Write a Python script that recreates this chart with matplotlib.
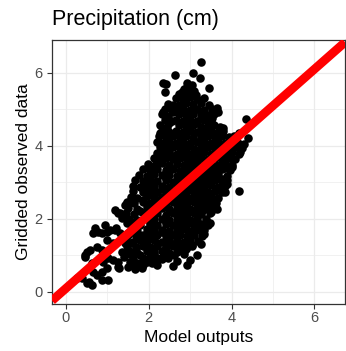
import matplotlib
matplotlib.use("Agg")
import matplotlib.pyplot as plt
from matplotlib.ticker import MultipleLocator

plt.rcParams['font.family'] = ['Liberation Sans', 'DejaVu Sans']

# model output (x) and gridded observation (y), one source line per band of points
model = [
    2.66, 2.83, 3.00, 3.17, 3.34,
    2.46, 2.74, 2.91, 3.08, 3.25, 3.46,
    2.38, 2.55, 2.66, 2.83, 3.00, 3.16, 3.33, 3.52,
    2.31, 2.47, 2.74, 2.91, 3.08, 3.25, 3.42, 3.57,
    2.40, 2.57, 2.66, 2.83, 3.00, 3.17, 3.34, 3.51,
    2.28, 2.45, 2.74, 2.91, 3.08, 3.25, 3.42, 3.58, 3.73,
    2.32, 2.49, 2.66, 2.83, 3.00, 3.17, 3.34, 3.51, 3.68, 3.80,
    2.24, 2.41, 2.58, 2.75, 2.91, 3.08, 3.25, 3.42, 3.59, 3.76, 3.93, 4.05,
    2.19, 2.33, 2.50, 2.66, 2.83, 3.00, 3.17, 3.34, 3.51, 3.68, 3.84, 4.00, 4.16,
    2.27, 2.41, 2.58, 2.75, 2.92, 3.09, 3.26, 3.42, 3.59, 3.76, 3.93, 4.09, 4.24,
    2.21, 2.33, 2.50, 2.67, 2.84, 3.00, 3.17, 3.34, 3.51, 3.68, 3.84, 4.01, 4.18,
    2.12, 2.25, 2.41, 2.58, 2.75, 2.92, 3.09, 3.26, 3.42, 3.59, 3.76, 3.93, 4.08,
    1.97, 2.16, 2.33, 2.50, 2.67, 2.84, 3.00, 3.17, 3.34, 3.51, 3.68, 3.84, 4.02,
    1.86, 2.04, 2.21, 2.41, 2.58, 2.75, 2.92, 3.09, 3.26, 3.42, 3.59, 3.76, 3.95,
    1.76, 1.95, 2.12, 2.33, 2.50, 2.67, 2.84, 3.00, 3.17, 3.34, 3.51, 3.68, 3.90,
    1.66, 1.86, 2.04, 2.21, 2.41, 2.58, 2.75, 2.92, 3.09, 3.26, 3.42, 3.59, 3.76, 3.88,
    1.61, 1.78, 1.95, 2.12, 2.33, 2.50, 2.67, 2.84, 3.00, 3.17, 3.34, 3.51, 3.68, 3.83,
    1.62, 1.86, 2.04, 2.21, 2.41, 2.58, 2.75, 2.92, 3.09, 3.26, 3.42, 3.59, 3.78,
    1.56, 1.72, 1.95, 2.12, 2.33, 2.50, 2.67, 2.84, 3.00, 3.17, 3.34, 3.51, 3.68,
    1.47, 1.64, 1.86, 2.04, 2.21, 2.41, 2.58, 2.75, 2.92, 3.09, 3.26, 3.42, 3.62,
    1.50, 1.72, 1.95, 2.12, 2.33, 2.50, 2.67, 2.84, 3.00, 3.17, 3.34, 3.51, 3.64,
    1.46, 1.64, 1.86, 2.04, 2.21, 2.41, 2.58, 2.75, 2.92, 3.09, 3.26, 3.48,
    1.52, 1.72, 1.95, 2.12, 2.33, 2.50, 2.67, 2.84, 3.00, 3.17, 3.38,
    1.56, 1.78, 2.04, 2.21, 2.41, 2.58, 2.75, 2.92, 3.09, 3.26, 3.44,
    1.58, 1.72, 1.95, 2.12, 2.33, 2.50, 2.67, 2.84, 3.00, 3.17, 3.34,
    1.50, 1.69, 1.86, 2.04, 2.21, 2.41, 2.58, 2.75, 2.92, 3.09, 3.28,
    1.46, 1.62, 1.78, 1.95, 2.12, 2.33, 2.50, 2.67, 2.84, 3.00, 3.18,
    1.48, 1.69, 1.86, 2.04, 2.21, 2.41, 2.58, 2.75, 2.92, 3.04,
    1.52, 1.72, 1.95, 2.12, 2.33, 2.50, 2.67, 2.84,
    1.62, 1.86, 2.04, 2.21, 2.41,
    1.54, 1.72, 1.95, 2.08,
    1.50, 1.66, 1.84,
    # in-between points of the dense core
    2.58, 2.92, 3.25, 2.50, 2.84, 3.17, 3.51, 2.41, 2.75, 3.09, 3.42, 3.76,
    2.33, 2.67, 3.00, 3.34, 3.68, 2.25, 2.58, 2.92, 3.26, 3.59, 3.93, 2.16,
    2.50, 2.84, 3.17, 3.51, 3.84, 2.04, 2.41, 2.75, 3.09, 3.42, 3.76, 1.95,
    2.33, 2.67, 3.00, 3.34, 3.68, 1.86, 2.21, 2.58, 2.92, 3.26, 3.59, 1.78,
    2.12, 2.50, 2.84, 3.17, 3.51, 1.69, 2.04, 2.41, 2.75, 3.09, 3.42, 1.62,
    1.95, 2.33, 2.67, 3.00, 3.34, 1.58, 1.86, 2.21, 2.58, 2.92, 3.26, 1.55,
    1.78, 2.12, 2.50, 2.84, 3.17, 1.62, 1.95, 2.33, 2.67, 3.00, 1.60, 1.86,
    2.21, 2.58, 2.92, 1.70, 2.04, 2.41, 2.75,
    # top of the core
    2.85, 3.00, 2.74, 3.15, 2.92, 3.05,
    # upper and right scatter
    3.26, 2.63, 3.07, 3.24, 2.34, 2.41, 2.39, 2.92, 3.45, 2.80, 2.97, 3.10,
    2.88, 3.65, 3.67, 3.53, 3.55, 2.58, 2.34, 2.27, 3.77, 3.79, 4.35, 4.18,
    4.40, 4.30, 4.20, 4.01, 4.18, 3.84, 3.90, 3.60, 3.48, 3.24, 3.31, 3.31,
    3.04, 2.46, 2.34, 2.60, 2.90,
    # low end
    1.18, 1.26, 1.38, 1.43, 1.47, 1.30, 1.35, 0.70, 0.66, 0.78, 0.86, 0.98,
    1.06, 1.18, 1.30, 0.94, 1.22, 1.47, 1.50, 0.50, 0.58, 0.46, 0.74, 0.86,
    1.43, 1.14, 1.35, 0.90, 1.02, 1.14, 1.26, 1.29, 0.98, 0.86, 0.62, 0.66,
    0.74, 0.38, 0.26, 0.50, 0.62, 0.56, 0.86, 1.02, 0.46, 1.26, 1.40, 1.00,
    1.56, 1.40,
]

observed = [
    5.30, 5.27, 5.33, 5.29, 5.31,
    5.16, 5.13, 5.17, 5.14, 5.18, 5.12,
    5.01, 4.98, 5.03, 5.00, 4.97, 5.02, 4.99, 5.01,
    4.86, 4.83, 4.87, 4.84, 4.86, 4.82, 4.85, 4.88,
    4.71, 4.68, 4.72, 4.69, 4.71, 4.67, 4.70, 4.72,
    4.56, 4.53, 4.57, 4.54, 4.56, 4.52, 4.55, 4.57, 4.53,
    4.41, 4.38, 4.42, 4.39, 4.41, 4.37, 4.40, 4.42, 4.38, 4.41,
    4.26, 4.23, 4.27, 4.24, 4.26, 4.22, 4.25, 4.27, 4.23, 4.26, 4.24, 4.27,
    4.11, 4.08, 4.12, 4.09, 4.11, 4.07, 4.10, 4.12, 4.08, 4.11, 4.09, 4.12, 4.08,
    3.96, 3.93, 3.97, 3.94, 3.96, 3.92, 3.95, 3.97, 3.93, 3.96, 3.94, 3.97, 3.93,
    3.81, 3.78, 3.82, 3.79, 3.81, 3.77, 3.80, 3.82, 3.78, 3.81, 3.79, 3.82, 3.78,
    3.66, 3.63, 3.67, 3.64, 3.66, 3.62, 3.65, 3.67, 3.63, 3.66, 3.64, 3.67, 3.63,
    3.51, 3.48, 3.52, 3.49, 3.51, 3.47, 3.50, 3.52, 3.48, 3.51, 3.49, 3.52, 3.48,
    3.36, 3.33, 3.37, 3.34, 3.36, 3.32, 3.35, 3.37, 3.33, 3.36, 3.34, 3.37, 3.33,
    3.21, 3.18, 3.22, 3.19, 3.21, 3.17, 3.20, 3.22, 3.18, 3.21, 3.19, 3.22, 3.18,
    3.06, 3.03, 3.07, 3.04, 3.06, 3.02, 3.05, 3.07, 3.03, 3.06, 3.04, 3.07, 3.03, 3.06,
    2.91, 2.88, 2.92, 2.89, 2.91, 2.87, 2.90, 2.92, 2.88, 2.91, 2.89, 2.92, 2.88, 2.91,
    2.76, 2.73, 2.77, 2.74, 2.76, 2.72, 2.75, 2.77, 2.73, 2.76, 2.74, 2.77, 2.73,
    2.61, 2.58, 2.62, 2.59, 2.61, 2.57, 2.60, 2.62, 2.58, 2.61, 2.59, 2.62, 2.58,
    2.46, 2.43, 2.47, 2.44, 2.46, 2.42, 2.45, 2.47, 2.43, 2.46, 2.44, 2.47, 2.43,
    2.31, 2.28, 2.32, 2.29, 2.31, 2.27, 2.30, 2.32, 2.28, 2.31, 2.29, 2.32, 2.28,
    2.16, 2.13, 2.17, 2.14, 2.16, 2.12, 2.15, 2.17, 2.13, 2.16, 2.14, 2.17,
    2.01, 1.98, 2.02, 1.99, 2.01, 1.97, 2.00, 2.02, 1.98, 2.01, 1.99,
    1.86, 1.83, 1.87, 1.84, 1.86, 1.82, 1.85, 1.87, 1.83, 1.86, 1.84,
    1.71, 1.68, 1.72, 1.69, 1.71, 1.67, 1.70, 1.72, 1.68, 1.71, 1.69,
    1.56, 1.53, 1.57, 1.54, 1.56, 1.52, 1.55, 1.57, 1.53, 1.56, 1.54,
    1.41, 1.38, 1.42, 1.39, 1.41, 1.37, 1.40, 1.42, 1.38, 1.41, 1.39,
    1.26, 1.23, 1.27, 1.24, 1.26, 1.22, 1.25, 1.27, 1.23, 1.26,
    1.11, 1.08, 1.12, 1.09, 1.11, 1.07, 1.10, 1.12,
    0.96, 0.93, 0.97, 0.94, 0.96,
    0.81, 0.78, 0.82, 0.79,
    0.67, 0.64, 0.66,
    # in-between points of the dense core
    4.92, 4.94, 4.90, 4.63, 4.61, 4.64, 4.60, 4.33, 4.31, 4.34, 4.30, 4.32,
    4.03, 4.02, 4.04, 4.01, 4.03, 3.73, 3.72, 3.74, 3.71, 3.73, 3.70, 3.43,
    3.42, 3.44, 3.41, 3.43, 3.40, 3.13, 3.12, 3.14, 3.11, 3.13, 3.10, 2.83,
    2.82, 2.84, 2.81, 2.83, 2.80, 2.53, 2.52, 2.54, 2.51, 2.53, 2.50, 2.23,
    2.22, 2.24, 2.21, 2.23, 2.20, 1.93, 1.92, 1.94, 1.91, 1.93, 1.90, 1.63,
    1.62, 1.64, 1.61, 1.63, 1.60, 1.33, 1.32, 1.34, 1.31, 1.33, 1.30, 1.03,
    1.02, 1.04, 1.01, 1.03, 1.00, 0.88, 0.87, 0.89, 0.86, 0.88, 0.74, 0.73,
    0.75, 0.72, 0.74, 1.18, 1.17, 1.19, 1.16,
    # top of the core
    5.55, 5.45, 5.42, 5.40, 5.60, 5.66,
    # upper and right scatter
    6.30, 5.95, 6.00, 5.86, 5.72, 5.70, 5.48, 5.73, 5.59, 5.48, 5.62, 5.50,
    5.36, 5.04, 4.93, 4.77, 4.58, 5.12, 4.93, 4.36, 4.38, 4.49, 4.74, 4.36,
    4.22, 4.05, 3.84, 3.42, 2.77, 2.74, 2.95, 2.30, 1.89, 1.78, 1.62, 2.25,
    1.29, 0.93, 0.96, 1.02, 1.18,
    # low end
    2.25, 2.16, 2.11, 2.38, 2.43, 2.16, 2.02, 1.74, 1.61, 1.65, 1.61, 1.65,
    1.70, 1.70, 1.61, 1.84, 1.74, 1.88, 1.61, 1.10, 1.15, 1.01, 1.24, 1.15,
    1.34, 1.33, 1.10, 0.83, 0.92, 0.88, 0.83, 0.65, 0.65, 0.56, 0.79, 0.56,
    0.47, 0.38, 0.38, 0.24, 0.19, 0.28, 0.33, 0.33, 0.97, 0.69, 1.45, 1.42,
    1.06, 0.95,
]

# red reference line through the cloud
line_intercept = 0.1
line_slope = 1.0

fig = plt.figure(figsize=(3.46, 3.51), dpi=100)
ax = fig.add_axes([52 / 346, 47 / 351, 293 / 346, 264 / 351])

ax.scatter(model, observed, s=38, c='black', linewidths=0, zorder=2)
ax.axline((0, line_intercept), slope=line_slope, color='red', lw=6.3,
          solid_capstyle='butt', zorder=3)

ax.set_xlim(-0.338, 6.74)
ax.set_ylim(-0.33, 6.9)
for axis in (ax.xaxis, ax.yaxis):
    axis.set_major_locator(MultipleLocator(2))
    axis.set_minor_locator(MultipleLocator(1))

ax.set_axisbelow(True)
ax.grid(which='major', color='#EBEBEB', lw=0.9)
ax.grid(which='minor', color='#EBEBEB', lw=0.5)
ax.tick_params(which='minor', length=0)
ax.tick_params(which='major', length=3.5, width=0.8, color='#333333',
               labelcolor='#4D4D4D', labelsize=10.5)
ax.tick_params(axis='x', pad=1.8)
ax.tick_params(axis='y', pad=3.2)
for spine in ax.spines.values():
    spine.set_color('#333333')
    spine.set_linewidth(0.9)

ax.set_xlabel('Model outputs', fontsize=12.5, labelpad=3)
ax.set_ylabel('Gridded observed data', fontsize=12.5, labelpad=2.4)
ax.set_title('Precipitation (cm)', loc='left', fontsize=15.5, pad=10.8)

fig.savefig('out.png', dpi=100)
